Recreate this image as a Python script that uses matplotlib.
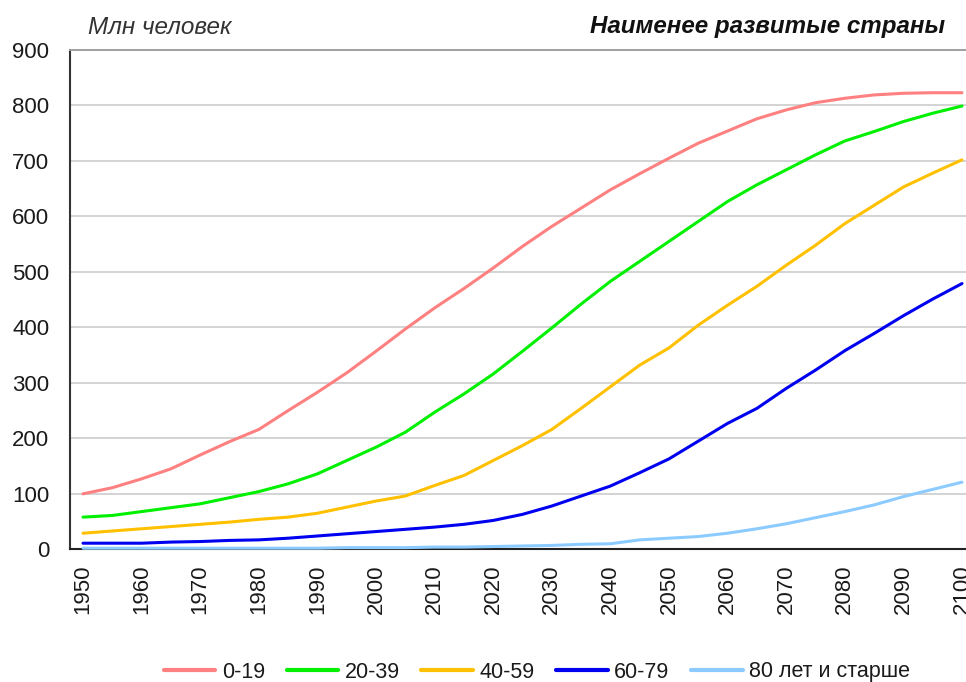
import matplotlib
matplotlib.use("Agg")
import matplotlib.pyplot as plt
from matplotlib.ticker import MultipleLocator

plt.rcParams['font.family'] = ['Liberation Sans', 'DejaVu Sans']

years = list(range(1950, 2101, 5))
age_0_19 = [100, 111, 127, 145, 170, 194, 216, 250, 283, 318, 357, 397, 435, 470, 507,
            546, 582, 615, 648, 677, 705, 732, 754, 776, 792, 805, 813, 819, 822, 823, 823]
age_20_39 = [58, 61, 68, 75, 82, 93, 104, 118, 136, 160, 184, 211, 247, 280, 316,
             357, 399, 442, 483, 519, 555, 591, 627, 657, 684, 711, 736, 753, 771, 786, 799]
age_40_59 = [29, 33, 37, 41, 45, 49, 54, 58, 65, 76, 87, 96, 115, 133, 160,
             187, 216, 254, 293, 332, 363, 404, 440, 474, 512, 548, 587, 620, 653, 678, 702]
age_60_79 = [11, 11, 11, 13, 14, 16, 17, 20, 24, 28, 32, 36, 40, 45, 52,
             63, 78, 96, 114, 138, 163, 195, 227, 254, 290, 323, 358, 389, 421, 451, 479]
age_80p = [2, 2, 2, 2, 2, 2, 2, 2, 2, 3, 3, 3, 4, 4, 5,
           6, 7, 9, 10, 17, 20, 23, 29, 37, 46, 57, 68, 80, 95, 108, 121]

labels = ["0-19", "20-39", "40-59", "60-79", "80 лет и старше"]
colors = ["#FF8080", "#00F000", "#FFC000", "#0000F0", "#8CCBFF"]
series = [age_0_19, age_20_39, age_40_59, age_60_79, age_80p]
xtick_years = list(range(1950, 2101, 10))

W, H = 966, 682
fig = plt.figure(figsize=(W / 100, H / 100), dpi=100)
left_px, right_px, top_px, bot_px = 70, 966, 50, 549.3
ax = fig.add_axes([left_px / W, 1 - bot_px / H, (right_px - left_px) / W, (bot_px - top_px) / H])

for vals, lab, col in zip(series, labels, colors):
    ax.plot(years, vals, color=col, lw=2.2, label=lab, zorder=3, clip_on=False,
            solid_capstyle='round')

px_per_year = (962 - 83) / 150.0
ax.set_xlim(1950 - (83 - left_px) / px_per_year, 2100 + (right_px - 962) / px_per_year)
ax.set_ylim(0, 900)
ax.yaxis.set_major_locator(MultipleLocator(100))
ax.set_xticks(xtick_years)
ax.set_xticklabels([str(y) for y in xtick_years], rotation=90)

ax.grid(axis='y', color='#C8C8C8', lw=1.1, zorder=0)
ax.set_axisbelow(True)
ax.tick_params(axis='both', length=0, labelsize=16, colors='#1a1a1a')
ax.tick_params(axis='y', pad=15)
ax.tick_params(axis='x', pad=11)

ax.spines['right'].set_visible(False)
ax.spines['top'].set_color('#A0A0A0')
ax.spines['top'].set_linewidth(1.4)
ax.spines['left'].set_color('#333333')
ax.spines['left'].set_linewidth(1.5)
ax.spines['bottom'].set_color('#222222')
ax.spines['bottom'].set_linewidth(1.5)

fig.text(88 / W, 1 - 27 / H, "Млн человек", fontsize=17.5, style='italic',
         color='#333333', ha='left', va='center')
fig.text(945 / W, 1 - 27 / H, "Наименее развитые страны", fontsize=17.4, style='italic',
         fontweight='bold', color='#111111', ha='right', va='center')

leg = fig.legend(loc='center', bbox_to_anchor=(537 / W, 1 - 672 / H), ncol=5,
                 frameon=False, fontsize=15.5, handlelength=2.4, handletextpad=0.3,
                 columnspacing=1.0, borderpad=0)
for t in leg.get_texts():
    t.set_color('#1a1a1a')
for h in leg.get_lines():
    h.set_linewidth(3)

fig.savefig("out.png", dpi=100)
